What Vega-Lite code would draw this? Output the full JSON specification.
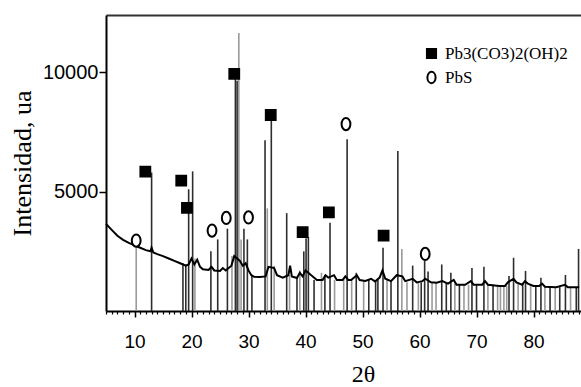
{
  "$schema": "https://vega.github.io/schema/vega-lite/v6.json",
  "width": 475,
  "height": 296,
  "autosize": "none",
  "padding": {"left": 106, "top": 15, "right": 0, "bottom": 76},
  "background": "white",
  "config": {"view": {"stroke": null}, "font": "Liberation Sans"},
  "datasets": {
    "sticks": [
      {"t": 10.3, "i": 2700, "c": "g"},
      {"t": 13.0, "i": 5800, "c": "d"},
      {"t": 18.5, "i": 2000, "c": "d"},
      {"t": 19.0, "i": 1950, "c": "d"},
      {"t": 19.5, "i": 5100, "c": "d"},
      {"t": 20.2, "i": 5850, "c": "d"},
      {"t": 20.6, "i": 2200, "c": "g"},
      {"t": 23.4, "i": 2500, "c": "d"},
      {"t": 24.6, "i": 3000, "c": "d"},
      {"t": 26.3, "i": 3450, "c": "d"},
      {"t": 27.1, "i": 2300, "c": "g"},
      {"t": 27.7, "i": 9870, "c": "d"},
      {"t": 28.0, "i": 9650, "c": "d"},
      {"t": 28.3, "i": 11650, "c": "g"},
      {"t": 28.7, "i": 3000, "c": "g"},
      {"t": 29.2, "i": 3450, "c": "d"},
      {"t": 29.8, "i": 3000, "c": "d"},
      {"t": 30.6, "i": 1500, "c": "d"},
      {"t": 32.9, "i": 7150, "c": "d"},
      {"t": 33.3, "i": 4300, "c": "g"},
      {"t": 34.0, "i": 8050, "c": "d"},
      {"t": 34.5, "i": 1900, "c": "g"},
      {"t": 36.7, "i": 4100, "c": "d"},
      {"t": 37.2, "i": 1500, "c": "g"},
      {"t": 38.5, "i": 1400, "c": "d"},
      {"t": 39.0, "i": 1700, "c": "g"},
      {"t": 39.7, "i": 2500, "c": "d"},
      {"t": 40.1, "i": 3050, "c": "d"},
      {"t": 40.5, "i": 3100, "c": "d"},
      {"t": 41.5, "i": 1300, "c": "d"},
      {"t": 42.8, "i": 1600, "c": "g"},
      {"t": 43.4, "i": 1500, "c": "d"},
      {"t": 44.3, "i": 3700, "c": "d"},
      {"t": 45.1, "i": 1300, "c": "g"},
      {"t": 46.7, "i": 1350, "c": "g"},
      {"t": 47.3, "i": 7200, "c": "d"},
      {"t": 48.1, "i": 1300, "c": "g"},
      {"t": 48.9, "i": 1600, "c": "d"},
      {"t": 50.2, "i": 1300, "c": "g"},
      {"t": 51.1, "i": 1300, "c": "d"},
      {"t": 52.3, "i": 1300, "c": "d"},
      {"t": 52.7, "i": 1300, "c": "d"},
      {"t": 53.6, "i": 2650, "c": "d"},
      {"t": 54.3, "i": 1350, "c": "g"},
      {"t": 55.0, "i": 1300, "c": "d"},
      {"t": 56.2, "i": 6700, "c": "d"},
      {"t": 56.9, "i": 2600, "c": "g"},
      {"t": 57.8, "i": 1200, "c": "g"},
      {"t": 58.8, "i": 1900, "c": "d"},
      {"t": 59.8, "i": 1200, "c": "g"},
      {"t": 60.3, "i": 1200, "c": "d"},
      {"t": 60.9, "i": 2100, "c": "d"},
      {"t": 61.5, "i": 1650, "c": "d"},
      {"t": 62.2, "i": 1200, "c": "g"},
      {"t": 62.9, "i": 1200, "c": "g"},
      {"t": 63.9, "i": 1950, "c": "d"},
      {"t": 64.7, "i": 1200, "c": "d"},
      {"t": 65.5, "i": 1600, "c": "d"},
      {"t": 66.2, "i": 1150, "c": "g"},
      {"t": 67.0, "i": 1100, "c": "d"},
      {"t": 67.8, "i": 1100, "c": "g"},
      {"t": 68.6, "i": 1100, "c": "g"},
      {"t": 69.2, "i": 1800, "c": "d"},
      {"t": 70.0, "i": 1100, "c": "d"},
      {"t": 71.3, "i": 1850, "c": "d"},
      {"t": 72.0, "i": 1100, "c": "g"},
      {"t": 72.9, "i": 1100, "c": "d"},
      {"t": 73.7, "i": 1050, "c": "g"},
      {"t": 74.2, "i": 1050, "c": "g"},
      {"t": 74.8, "i": 1050, "c": "g"},
      {"t": 75.3, "i": 1050, "c": "g"},
      {"t": 75.7, "i": 1470, "c": "d"},
      {"t": 76.5, "i": 2230, "c": "d"},
      {"t": 77.3, "i": 1150, "c": "g"},
      {"t": 78.1, "i": 1150, "c": "d"},
      {"t": 78.6, "i": 1680, "c": "d"},
      {"t": 79.5, "i": 1100, "c": "g"},
      {"t": 80.4, "i": 1050, "c": "d"},
      {"t": 81.3, "i": 1390, "c": "d"},
      {"t": 82.0, "i": 1050, "c": "g"},
      {"t": 82.9, "i": 1020, "c": "d"},
      {"t": 83.8, "i": 1000, "c": "g"},
      {"t": 84.6, "i": 1000, "c": "d"},
      {"t": 85.6, "i": 1510, "c": "d"},
      {"t": 86.5, "i": 1000, "c": "g"},
      {"t": 87.5, "i": 1000, "c": "d"},
      {"t": 87.9, "i": 2600, "c": "d"}
    ],
    "curve": [
      {"t": 5, "i": 3650}, {"t": 6, "i": 3400}, {"t": 7, "i": 3150}, {"t": 8, "i": 2980},
      {"t": 9, "i": 2850}, {"t": 10, "i": 2750}, {"t": 11, "i": 2650}, {"t": 12, "i": 2550},
      {"t": 12.8, "i": 2500}, {"t": 13, "i": 2650}, {"t": 13.3, "i": 2450}, {"t": 14, "i": 2380},
      {"t": 15, "i": 2300}, {"t": 16, "i": 2200}, {"t": 17, "i": 2100}, {"t": 18, "i": 2000},
      {"t": 19, "i": 1900}, {"t": 19.5, "i": 1950}, {"t": 20, "i": 2200}, {"t": 20.5, "i": 1950},
      {"t": 21, "i": 2150}, {"t": 21.5, "i": 1850}, {"t": 22, "i": 1750}, {"t": 23, "i": 1720},
      {"t": 23.5, "i": 1850}, {"t": 24, "i": 1700}, {"t": 25, "i": 1680}, {"t": 25.5, "i": 1800},
      {"t": 26, "i": 1700}, {"t": 27, "i": 1900}, {"t": 27.5, "i": 2300}, {"t": 28.5, "i": 2100},
      {"t": 29, "i": 1900}, {"t": 29.5, "i": 2000}, {"t": 30, "i": 1700}, {"t": 30.5, "i": 1500},
      {"t": 31, "i": 1430}, {"t": 32, "i": 1420}, {"t": 33, "i": 1450}, {"t": 33.5, "i": 1850},
      {"t": 34.5, "i": 1800}, {"t": 35, "i": 1500}, {"t": 36, "i": 1400}, {"t": 37, "i": 1500},
      {"t": 37.3, "i": 1900}, {"t": 37.6, "i": 1450}, {"t": 38.5, "i": 1380}, {"t": 39, "i": 1600},
      {"t": 39.5, "i": 1450}, {"t": 40, "i": 1700}, {"t": 41, "i": 1500}, {"t": 42, "i": 1300},
      {"t": 43, "i": 1300}, {"t": 43.5, "i": 1500}, {"t": 44, "i": 1400}, {"t": 45, "i": 1500},
      {"t": 45.5, "i": 1300}, {"t": 46.5, "i": 1300}, {"t": 47, "i": 1450}, {"t": 47.5, "i": 1300},
      {"t": 48, "i": 1300}, {"t": 49, "i": 1500}, {"t": 49.5, "i": 1300}, {"t": 50.5, "i": 1260},
      {"t": 51.5, "i": 1350}, {"t": 52.2, "i": 1240}, {"t": 53, "i": 1400}, {"t": 53.5, "i": 1700},
      {"t": 54, "i": 1350}, {"t": 55, "i": 1250}, {"t": 56, "i": 1500}, {"t": 57, "i": 1450},
      {"t": 57.5, "i": 1250}, {"t": 58.8, "i": 1350}, {"t": 59.5, "i": 1200}, {"t": 60.5, "i": 1250},
      {"t": 61, "i": 1350}, {"t": 62, "i": 1200}, {"t": 63, "i": 1180}, {"t": 64, "i": 1250},
      {"t": 65, "i": 1150}, {"t": 66, "i": 1300}, {"t": 66.5, "i": 1100}, {"t": 68, "i": 1100},
      {"t": 69, "i": 1250}, {"t": 69.5, "i": 1100}, {"t": 71, "i": 1100}, {"t": 71.5, "i": 1250},
      {"t": 72, "i": 1100}, {"t": 74, "i": 1050}, {"t": 75, "i": 1050}, {"t": 75.5, "i": 1200},
      {"t": 76.5, "i": 1350}, {"t": 77, "i": 1200}, {"t": 78, "i": 1100}, {"t": 78.5, "i": 1250},
      {"t": 79, "i": 1150}, {"t": 80, "i": 1050}, {"t": 81, "i": 1050}, {"t": 81.5, "i": 1150},
      {"t": 82, "i": 1020}, {"t": 84, "i": 1000}, {"t": 85.5, "i": 1100}, {"t": 86, "i": 1000},
      {"t": 88, "i": 1000}
    ],
    "marks": [
      {"t": 11.9, "i": 5840, "p": "Pb3(CO3)2(OH)2"},
      {"t": 18.2, "i": 5460, "p": "Pb3(CO3)2(OH)2"},
      {"t": 19.2, "i": 4320, "p": "Pb3(CO3)2(OH)2"},
      {"t": 27.5, "i": 9930, "p": "Pb3(CO3)2(OH)2"},
      {"t": 33.9, "i": 8210, "p": "Pb3(CO3)2(OH)2"},
      {"t": 39.5, "i": 3300, "p": "Pb3(CO3)2(OH)2"},
      {"t": 44.1, "i": 4130, "p": "Pb3(CO3)2(OH)2"},
      {"t": 53.7, "i": 3160, "p": "Pb3(CO3)2(OH)2"},
      {"t": 10.3, "i": 2950, "p": "PbS"},
      {"t": 23.6, "i": 3370, "p": "PbS"},
      {"t": 26.1, "i": 3900, "p": "PbS"},
      {"t": 30.0, "i": 3920, "p": "PbS"},
      {"t": 47.1, "i": 7830, "p": "PbS"},
      {"t": 61.0, "i": 2390, "p": "PbS"}
    ]
  },
  "layer": [
    {
      "data": {"name": "sticks"},
      "mark": {"type": "rule", "strokeWidth": 1.6},
      "encoding": {
        "x": {
          "field": "t", "type": "quantitative",
          "scale": {"domain": [5, 88.33], "nice": false, "zero": false},
          "axis": {
            "orient": "bottom",
            "values": [10, 20, 30, 40, 50, 60, 70, 80],
            "tickSize": 6, "tickColor": "black", "tickWidth": 1.5,
            "domainColor": "black", "domainWidth": 2,
            "labelFont": "Liberation Sans", "labelFontSize": 19, "labelColor": "black",
            "labelPadding": 15, "grid": false,
            "title": "2θ", "titleFont": "Liberation Serif", "titleFontSize": 24,
            "titleFontWeight": "normal", "titleColor": "black",
            "titleX": 257, "titleY": 70, "titleBaseline": "alphabetic"
          }
        },
        "y": {
          "field": "i", "type": "quantitative",
          "scale": {"domain": [0, 12400], "nice": false},
          "axis": {
            "values": [5000, 10000], "format": "d", "grid": false,
            "tickSize": 7, "tickColor": "black", "tickWidth": 1.5,
            "domainColor": "black", "domainWidth": 2,
            "labelFont": "Liberation Sans", "labelFontSize": 20, "labelColor": "black",
            "labelPadding": 1,
            "title": "Intensidad, ua", "titleFont": "Liberation Serif", "titleFontSize": 26,
            "titleFontWeight": "normal", "titleColor": "black",
            "titleAngle": -90, "titleX": -76, "titleY": 148,
            "titleAlign": "center", "titleBaseline": "alphabetic"
          }
        },
        "y2": {"datum": 0},
        "color": {
          "field": "c", "type": "nominal",
          "scale": {"domain": ["d", "g"], "range": ["#2e2e2e", "#9a9a9a"]},
          "legend": null
        }
      }
    },
    {
      "data": {"name": "curve"},
      "mark": {"type": "line", "color": "black", "strokeWidth": 2},
      "encoding": {
        "x": {
          "field": "t", "type": "quantitative",
          "axis": {
            "orient": "bottom",
            "values": [5, 6, 7, 8, 9, 11, 12, 13, 14, 15, 16, 17, 18, 19, 21, 22, 23, 24, 25, 26, 27, 28, 29, 31, 32, 33, 34, 35, 36, 37, 38, 39, 41, 42, 43, 44, 45, 46, 47, 48, 49, 51, 52, 53, 54, 55, 56, 57, 58, 59, 61, 62, 63, 64, 65, 66, 67, 68, 69, 71, 72, 73, 74, 75, 76, 77, 78, 79, 81, 82, 83, 84, 85, 86, 87, 88],
            "tickSize": 3, "tickColor": "black", "tickWidth": 1.2,
            "labels": false, "domain": false, "grid": false, "title": null
          }
        },
        "y": {"field": "i", "type": "quantitative"}
      }
    },
    {
      "data": {"name": "marks"},
      "mark": {"type": "point", "strokeWidth": 2, "opacity": 1, "size": 150},
      "encoding": {
        "x": {
          "field": "t", "type": "quantitative",
          "axis": {
            "orient": "top", "ticks": false, "labels": false, "grid": false,
            "domain": true, "domainColor": "#333", "domainWidth": 2, "title": null
          }
        },
        "y": {"field": "i", "type": "quantitative"},
        "shape": {
          "field": "p", "type": "nominal",
          "scale": {
            "domain": ["Pb3(CO3)2(OH)2", "PbS"],
            "range": ["M-0.8,-0.8H0.8V0.8H-0.8Z", "M0,-1A0.72,1 0 1,1 0,1A0.72,1 0 1,1 0,-1Z"]
          },
          "legend": {
            "orient": "none", "legendX": 317, "legendY": 30, "title": null,
            "labelFont": "Liberation Serif", "labelFontSize": 17, "labelColor": "black",
            "symbolSize": 130, "symbolStrokeWidth": 2,
            "rowPadding": 4, "labelOffset": 5, "padding": 0
          }
        },
        "fill": {
          "field": "p", "type": "nominal",
          "scale": {"domain": ["Pb3(CO3)2(OH)2", "PbS"], "range": ["black", "white"]},
          "legend": {
            "orient": "none", "legendX": 317, "legendY": 30, "title": null,
            "labelFont": "Liberation Serif", "labelFontSize": 17, "labelColor": "black",
            "symbolSize": 130, "symbolStrokeWidth": 2,
            "rowPadding": 4, "labelOffset": 5, "padding": 0
          }
        },
        "stroke": {
          "field": "p", "type": "nominal",
          "scale": {"domain": ["Pb3(CO3)2(OH)2", "PbS"], "range": ["black", "black"]},
          "legend": {
            "orient": "none", "legendX": 317, "legendY": 30, "title": null,
            "labelFont": "Liberation Serif", "labelFontSize": 17, "labelColor": "black",
            "symbolSize": 130, "symbolStrokeWidth": 2,
            "rowPadding": 4, "labelOffset": 5, "padding": 0
          }
        }
      }
    }
  ],
  "resolve": {"axis": {"x": "independent"}}
}
